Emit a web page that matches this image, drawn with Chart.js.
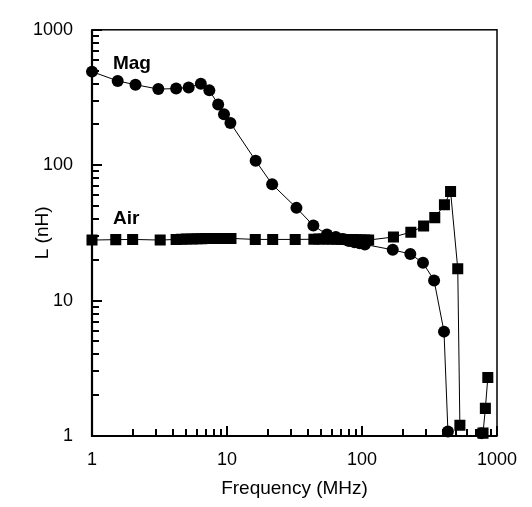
<!DOCTYPE html>
<html lang="en">
<head>
  <meta charset="UTF-8">
  <title>L vs Frequency</title>
  <script src="https://cdn.jsdelivr.net/npm/chart.js"></script>
  <style>
    html, body { margin: 0; padding: 0; background: #fff; }
    canvas { display: block; }
  </style>
</head>
<body>
  <canvas id="chart" width="532" height="507"></canvas>

  <script>
    // values (frequency in MHz, inductance in nH)
    const magFreq = [1, 1.55, 2.1, 3.1, 4.2, 5.2, 6.4, 7.4, 8.6, 9.5, 10.6, 16.3, 21.6, 32.7, 43.6, 55,
      64, 72, 80, 88, 96, 105, 169, 228, 283, 342, 405, 433, 600, 767];
    const magL = [491, 419, 393, 365, 368, 375, 400, 357, 281, 238, 205, 108, 72.2, 48.4, 35.8, 30.8,
      29.5, 28.5, 27.5, 27, 26.5, 26, 23.7, 22.1, 19, 14.1, 5.9, 1.08, null, 1.05];

    const airFreq = [1, 1.5, 2, 3.2, 4.2, 4.6, 5, 5.5, 6, 6.5, 7, 7.5, 8, 8.5, 9, 9.5, 10, 10.7,
      16.2, 21.8, 32, 44, 48, 52, 56, 60, 65, 70, 75, 80, 86, 92, 98, 105, 112,
      171, 230, 286, 346, 408, 453, 512, 531, 650, 788, 820, 855];
    const airL = [28, 28.2, 28.3, 28, 28.3, 28.4, 28.5, 28.5, 28.6, 28.6, 28.7, 28.7, 28.8, 28.8, 28.8, 28.8, 28.8, 28.8,
      28.3, 28.3, 28.3, 28.4, 28.5, 28.5, 28.5, 28.5, 28.4, 28.4, 28.3, 28.2, 28.2, 28.1, 28, 28, 28,
      29.5, 32, 35.5, 41, 51, 64, 17.2, 1.2, null, 1.05, 1.6, 2.7];

    const xTickLabels = ['1', '10', '100', '1000'];
    const yTickLabels = ['1', '10', '100', '1000'];
    const seriesNames = ['Mag', 'Air'];

    const FONT = 'Liberation Sans, Arial, Helvetica, sans-serif';

    function toPoints(xs, ys) {
      return xs.map((x, i) => ({ x: x, y: ys[i] }));
    }

    function decadeLabel(labels) {
      return function (value) {
        const e = Math.log10(value);
        if (Math.abs(e - Math.round(e)) < 1e-9) {
          return labels[Math.round(e)];
        }
        return '';
      };
    }

    // box round the plot, inward tick marks, and the two series names
    const framePlugin = {
      id: 'frame',
      afterDraw(chart) {
        const { ctx, chartArea: a, scales: { x, y } } = chart;
        ctx.save();
        ctx.strokeStyle = '#000';
        ctx.lineWidth = 1.5;
        ctx.strokeRect(a.left, a.top, a.right - a.left, a.bottom - a.top);
        ctx.lineWidth = 2.2;
        ctx.beginPath();
        ctx.moveTo(a.left, a.top);
        ctx.lineTo(a.left, a.bottom);
        ctx.lineTo(a.right, a.bottom);
        ctx.stroke();

        ctx.lineWidth = 2;
        for (let d = 1; d < 1000; d *= 10) {
          for (let k = 2; k <= 10; k++) {
            const v = d * k;
            const len = k === 10 ? 10 : 7;
            const px = Math.round(x.getPixelForValue(v));
            const py = Math.round(y.getPixelForValue(v));
            ctx.beginPath();
            ctx.moveTo(px, a.bottom);
            ctx.lineTo(px, a.bottom - len);
            ctx.stroke();
            ctx.beginPath();
            ctx.moveTo(a.left, py);
            ctx.lineTo(a.left + len, py);
            ctx.stroke();
          }
        }

        ctx.fillStyle = '#000';
        ctx.font = 'bold 19px ' + FONT;
        ctx.textAlign = 'left';
        ctx.textBaseline = 'alphabetic';
        ctx.fillText(seriesNames[0], x.getPixelForValue(1.43), y.getPixelForValue(510));
        ctx.fillText(seriesNames[1], x.getPixelForValue(1.43), y.getPixelForValue(36.7));
        ctx.restore();
      }
    };

    function createChart() {
      const chartCanvas = document.getElementById('chart').getContext('2d');

      new Chart(chartCanvas, {
        type: 'line',
        data: {
          datasets: [
            {
              label: seriesNames[1],
              data: toPoints(airFreq, airL),
              borderColor: '#000',
              backgroundColor: '#000',
              borderWidth: 1,
              pointStyle: 'rect',
              pointRadius: 7.8,
              pointBorderWidth: 0,
              spanGaps: false,
              clip: 8,
            },
            {
              label: seriesNames[0],
              data: toPoints(magFreq, magL),
              borderColor: '#000',
              backgroundColor: '#000',
              borderWidth: 1,
              pointStyle: 'circle',
              pointRadius: 6,
              pointBorderWidth: 0,
              spanGaps: false,
              clip: 8,
            },
          ],
        },
        options: {
          responsive: false,
          animation: false,
          devicePixelRatio: 1,
          layout: { padding: { top: 15, right: 35, left: 0, bottom: 0 } },
          plugins: {
            legend: { display: false },
            tooltip: { enabled: false },
          },
          scales: {
            x: {
              type: 'logarithmic',
              min: 1,
              max: 1000,
              grid: { display: false, drawTicks: false },
              border: { display: false },
              ticks: {
                autoSkip: false,
                maxRotation: 0,
                padding: 13,
                color: '#000',
                font: { family: FONT, size: 18 },
                callback: decadeLabel(xTickLabels),
              },
              title: {
                display: true,
                text: 'Frequency (MHz)',
                color: '#000',
                font: { family: FONT, size: 19 },
                padding: { top: 0, bottom: 7 },
              },
              afterFit: function (scale) { scale.height = 71; },
            },
            y: {
              type: 'logarithmic',
              min: 1,
              max: 1000,
              grid: { display: false, drawTicks: false },
              border: { display: false },
              ticks: {
                autoSkip: false,
                padding: 19,
                color: '#000',
                font: { family: FONT, size: 18 },
                callback: decadeLabel(yTickLabels),
              },
              title: {
                display: true,
                text: 'L (nH)',
                color: '#000',
                font: { family: FONT, size: 19 },
                padding: { top: 31, bottom: 0 },
              },
              afterFit: function (scale) { scale.width = 92; },
            },
          },
        },
        plugins: [framePlugin],
      });
    }

    createChart();
  </script>
</body>
</html>
